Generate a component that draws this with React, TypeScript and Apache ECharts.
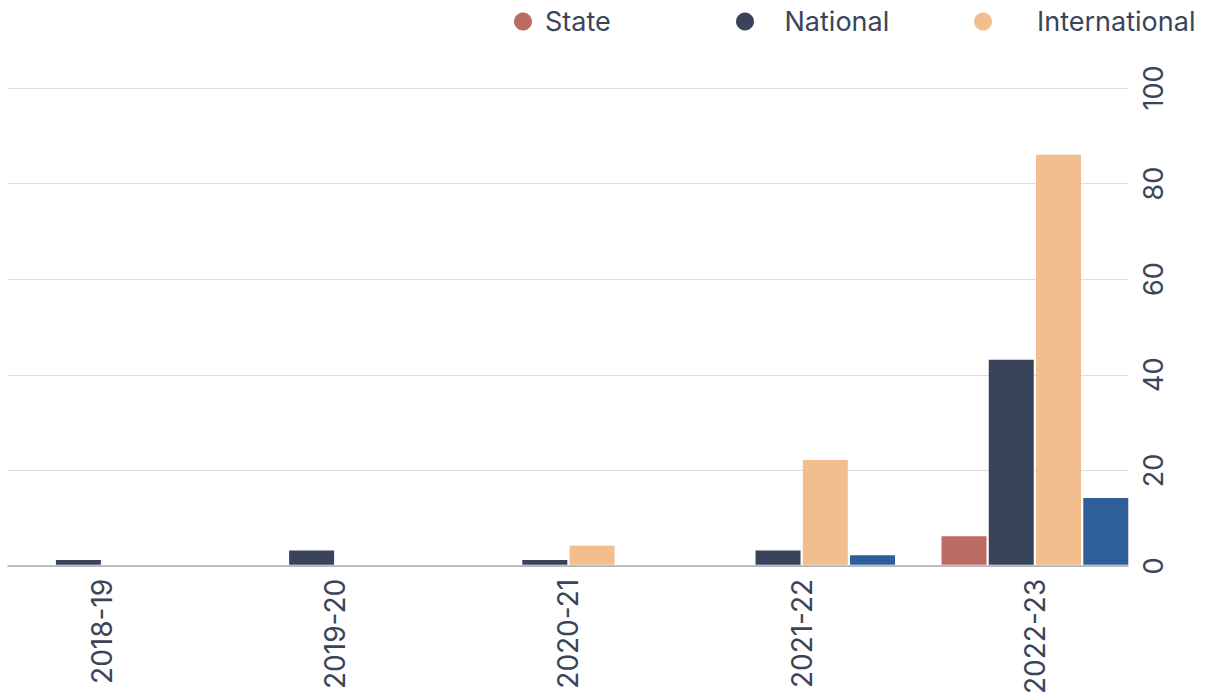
import React, { useEffect, useRef } from "react";
import * as echarts from "echarts";

const categories = ["2018-19", "2019-20", "2020-21", "2021-22", "2022-23"];
const stateValues = [0, 0, 0, 0, 6];
const nationalValues = [1, 3, 1, 3, 43];
const internationalValues = [0, 0, 4, 22, 86];
const otherValues = [0, 0, 0, 2, 14];
const yTicks = { min: 0, max: 100, interval: 20 };

const FONT = "Inter, 'Noto Sans', sans-serif";
const TEXT = "#3b4559";
const OFFSET = 30;

export default function App() {
  const ref = useRef<HTMLDivElement>(null);
  useEffect(() => {
    const chart = echarts.init(ref.current!, null, { renderer: "svg" });
    const legendBase = {
      top: 3,
      icon: "circle",
      itemHeight: 18,
      textStyle: { fontFamily: FONT, fontSize: 27, color: TEXT },
      selectedMode: false,
    };
    chart.setOption({
      animation: false,
      legend: [
        { ...legendBase, left: 509 + OFFSET, itemWidth: 34, data: ["State"] },
        { ...legendBase, left: 731 + OFFSET, itemWidth: 69, data: ["National"] },
        { ...legendBase, left: 969 + OFFSET, itemWidth: 98, data: ["International"] },
      ],
      grid: [
        { left: -14.6 + OFFSET, right: 54.5, top: 88, bottom: 131 },
        { left: 8 + OFFSET, right: 78, top: 88, bottom: 131 },
      ],
      xAxis: [
        {
          type: "category",
          gridIndex: 0,
          data: categories,
          axisLine: { show: false },
          axisTick: { show: false },
          axisLabel: {
            rotate: 90,
            margin: 14,
            fontFamily: FONT,
            fontSize: 28,
            color: TEXT,
          },
        },
        {
          type: "value",
          gridIndex: 1,
          min: 0,
          max: 1,
          axisLine: { show: true, onZero: false, lineStyle: { color: "#a7adb5", width: 1.5 } },
          axisTick: { show: false },
          axisLabel: { show: false },
          splitLine: { show: false },
        },
      ],
      yAxis: [
        {
          type: "value",
          gridIndex: 0,
          ...yTicks,
          show: false,
          splitLine: { show: false },
        },
        {
          type: "value",
          gridIndex: 1,
          position: "right",
          ...yTicks,
          axisLine: { show: false },
          axisTick: { show: false },
          splitLine: { show: true, lineStyle: { color: "#dcdde0", width: 1 } },
          axisLabel: {
            rotate: 90,
            margin: 12,
            fontFamily: FONT,
            fontSize: 27,
            color: TEXT,
          },
        },
      ],
      series: [
        { name: "State", type: "bar", data: stateValues, itemStyle: { color: "#bc6b63" } },
        { name: "National", type: "bar", data: nationalValues, itemStyle: { color: "#39435a" } },
        { name: "International", type: "bar", data: internationalValues, itemStyle: { color: "#f2be8d" } },
        { name: "Other", type: "bar", data: otherValues, itemStyle: { color: "#2e5f99" } },
      ].map((s) => ({ ...s, xAxisIndex: 0, yAxisIndex: 0, barWidth: 45, barGap: "5%", z: 3 })),
    });
    return () => chart.dispose();
  }, []);
  return (
    <div
      ref={ref}
      style={{ position: "absolute", left: -OFFSET, top: 0, width: 1206 + OFFSET, height: 697 }}
    />
  );
}
